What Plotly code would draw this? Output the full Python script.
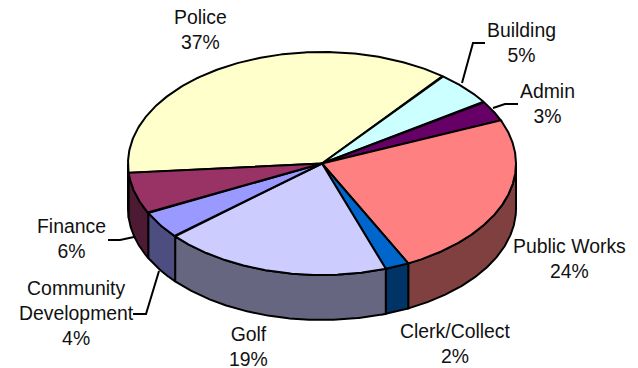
import numpy as np
import plotly.graph_objects as go

# Budget shares, clockwise from the Police slice
categories = ["Police", "Building", "Admin", "Public Works", "Clerk/Collect",
              "Golf", "Community<br>Development", "Finance"]
shares = [37, 5, 3, 24, 2, 19, 4, 6]
top_colors = ["#FFFFCC", "#CCFFFF", "#660066", "#FF8080", "#0066CC",
              "#CCCCFF", "#9999FF", "#993366"]
side_colors = ["#808066", "#668080", "#330033", "#804040", "#003366",
               "#666680", "#4D4D80", "#4D1A33"]

# Label centres in pixels (first line, line count comes from the text)
label_x = [200, 521.5, 547, 569.5, 455, 248, 76.5, 71]
label_y = [29.5, 42, 103, 258.5, 343.5, 346.5, 313, 238]

# Leader lines for the labels sitting off the pie
leader_x = [[462, 473, 485], [493, 505, 518], [134, 120, 108], [159, 146, 133]]
leader_y = [[83, 43, 43], [108, 104, 104], [237, 240, 240], [271, 314, 314]]

# Pie projection
CX, CY = 322, 163.5
RX, RY = 194, 111.5
DEPTH = 45
START_DEG = 184.8
EDGE = 2

fig = go.Figure()


def rim(t_deg, drop=0):
    t = np.radians(t_deg)
    return CX + RX * np.cos(t), CY - RY * np.sin(t) + drop


def add_poly(xs, ys, color):
    fig.add_trace(go.Scatter(x=xs, y=ys, mode="lines", fill="toself",
                             fillcolor=color,
                             line=dict(color="black", width=EDGE),
                             hoverinfo="skip", showlegend=False))


ends = START_DEG - np.cumsum(shares) * 3.6
starts = np.concatenate(([START_DEG], ends[:-1]))

# Outer wall: only the front half of the rim is visible
for a, b, color in zip(starts, ends, side_colors):
    t = np.linspace(a, b, 200)
    t = t[np.sin(np.radians(t)) <= 0]
    if t.size < 2:
        continue
    x0, y0 = rim(t)
    x1, y1 = rim(t[::-1], DEPTH)
    add_poly(np.r_[x0, x1, x0[0]], np.r_[y0, y1, y0[0]], color)

# Top face wedges
for a, b, color in zip(starts, ends, top_colors):
    t = np.linspace(a, b, 200)
    x, y = rim(t)
    add_poly(np.r_[CX, x, CX], np.r_[CY, y, CY], color)

for xs, ys in zip(leader_x, leader_y):
    fig.add_trace(go.Scatter(x=xs, y=ys, mode="lines",
                             line=dict(color="black", width=EDGE),
                             hoverinfo="skip", showlegend=False))

for name, share, x, y in zip(categories, shares, label_x, label_y):
    fig.add_annotation(x=x, y=y, text=f"{name}<br>{share}%", showarrow=False,
                       xanchor="center", yanchor="middle", align="center",
                       font=dict(family="Liberation Sans, Arial, sans-serif",
                                 size=19.4, color="#111111"))

fig.update_xaxes(range=[0, 638], visible=False, fixedrange=True)
fig.update_yaxes(range=[368, 0], visible=False, fixedrange=True)
fig.update_layout(width=638, height=368, autosize=False,
                  margin=dict(l=0, r=0, t=0, b=0),
                  paper_bgcolor="white", plot_bgcolor="white",
                  showlegend=False)

fig.write_html("out.html", config=dict(displayModeBar=False))
